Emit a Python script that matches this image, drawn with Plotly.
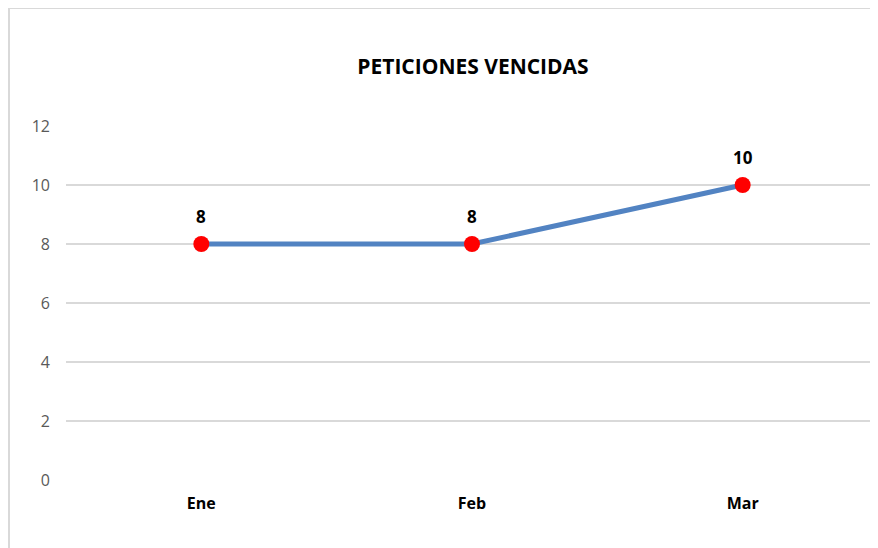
import plotly.graph_objects as go

months = ["Ene", "Feb", "Mar"]
values = [8, 8, 10]
y_ticks = [0, 2, 4, 6, 8, 10, 12]

OFF = 8  # page offset of the figure
W, H = 878 - OFF, 548 - OFF
PL, PT, PR, PB = 66, 126, 878, 480  # plot area in window pixels
L, T = PL - OFF, PT - OFF
R = W - (PR - OFF)
B = H - (PB - OFF)
PW, PH = PR - PL, PB - PT

FONT = "Open Sans, Liberation Sans, sans-serif"

fig = go.Figure()
fig.add_trace(go.Scatter(
    x=months, y=values, mode="lines+markers",
    line=dict(color="#5283C2", width=5),
    marker=dict(color="#FF0000", size=16, line=dict(width=0)),
    hoverinfo="skip", cliponaxis=False,
))
for m, v in zip(months, values):
    fig.add_annotation(x=m, y=v, text=f"<b>{v}</b>", showarrow=False,
                       yshift=28, font=dict(size=17, color="#000000", family=FONT))

fig.add_shape(type="rect", xref="paper", yref="paper",
              x0=(9 - PL) / PW, x1=1.05,
              y0=-0.5, y1=(PB - 8) / PH,
              line=dict(color="#D9D9D9", width=2), fillcolor="rgba(0,0,0,0)", layer="below")

fig.update_layout(
    width=W, height=H,
    margin=dict(l=L, r=R, t=T, b=B, pad=0),
    paper_bgcolor="white", plot_bgcolor="white",
    showlegend=False,
    title=dict(text="<b>PETICIONES VENCIDAS</b>", x=(473 - OFF) / W, xanchor="center",
               y=1 - (67 - OFF) / H, yanchor="middle",
               font=dict(size=21, color="#000000", family=FONT)),
    font=dict(family=FONT),
)
fig.update_xaxes(range=[-0.5, 2.5], showgrid=False, showline=False, zeroline=False,
                 ticks="", tickfont=dict(size=16, color="#000000"),
                 tickprefix="<b>", ticksuffix="</b>", ticklabelstandoff=12)
fig.update_yaxes(range=[0, 12], tickvals=y_ticks, showgrid=True, gridcolor="#D9D9D9",
                 gridwidth=1.5, zeroline=False, showline=False, ticks="",
                 tickfont=dict(size=16, color="#595959"), ticklabelstandoff=15)

fig.write_html("out.html")
